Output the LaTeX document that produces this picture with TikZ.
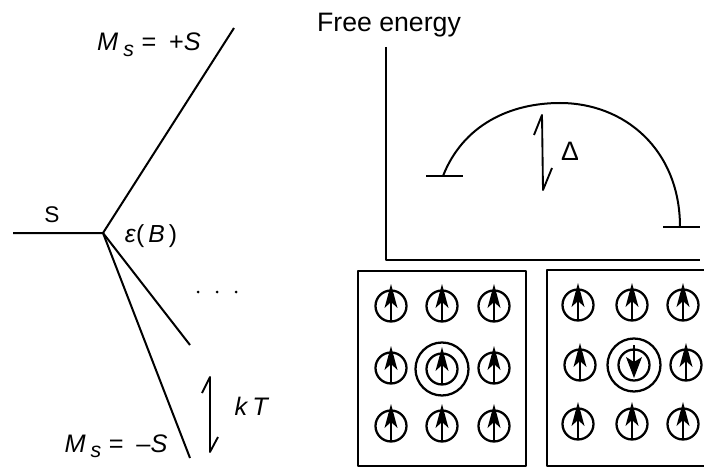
\documentclass[tikz,border=0pt]{standalone}
\usepackage{fontspec}
\setmainfont{Liberation Sans}
\begin{document}
\begin{tikzpicture}[x=0.75pt,y=-0.75pt,line width=1.5pt,line join=round,
  lbl/.style={inner sep=0pt,anchor=base},
  upspin/.pic={\draw[line width=1.7pt] (0,0) circle (15.5);
    \draw[line width=1.2pt] (0,16) -- (0,-16);
    \fill (0,-22) -- (6.5,2) -- (0,-4) -- (-6.5,2) -- cycle;},
  downspin/.pic={\draw[line width=1.7pt] (0,0) circle (15.5);
    \draw[line width=1.2pt] (0,-20) -- (0,6);
    \fill (0,13) -- (8,-8) -- (0,-3) -- (-8,-8) -- cycle;}]
\useasboundingbox (0,0) rectangle (704,467);
% ---------- left: level splitting ----------
\coordinate (v) at (103,233);
\coordinate (s0) at (13,233);
\coordinate (top) at (234,28);
\coordinate (mid) at (190,345);
\coordinate (bot) at (190,458);
\draw (s0) -- (v) -- (top);
\draw (v) -- (mid);
\draw (v) -- (bot);
\node[lbl] (Slab) at (52,222) {\fontsize{17pt}{17pt}\selectfont S};
\node[lbl] (eps) at (151,243) {\fontsize{18.5pt}{18.5pt}\selectfont\textit{ε}(\,\textit{B}\,)};
\node[lbl] (mplus) at (149,51) {\fontsize{19pt}{19pt}\selectfont\textit{M}\hspace{0.2em}\raisebox{-0.4ex}{\fontsize{16pt}{16pt}\selectfont\textit{s}}\hspace{0.3em}=\hspace{0.5em}+\textit{S}};
\node[lbl] (mminus) at (116,452) {\fontsize{19pt}{19pt}\selectfont\textit{M}\hspace{0.2em}\raisebox{-0.4ex}{\fontsize{16pt}{16pt}\selectfont\textit{s}}\hspace{0.3em}=\hspace{0.5em}\textendash\textit{S}};
\foreach \dx [count=\i] in {198,217,236} { \fill (\dx,292) circle (1.5); }
\coordinate (kA) at (202,393);
\coordinate (kB) at (210,377);
\coordinate (kC) at (210,452);
\coordinate (kD) at (218,437);
\draw[line width=1.4pt] (kA) -- (kB) -- (kC) -- (kD);
\node[lbl] (kT) at (252,415) {\fontsize{19pt}{19pt}\selectfont\textit{k}\,\textit{T}};
% ---------- right: free energy ----------
\node[lbl] (fe) at (389,32) {\fontsize{20pt}{20pt}\selectfont Free energy};
\coordinate (ax0) at (386,47);
\coordinate (axc) at (386,260);
\coordinate (ax1) at (700,260);
\draw (ax0) -- (axc) -- (ax1);
\coordinate (wl0) at (426,176);
\coordinate (wl1) at (463,176);
\coordinate (wr0) at (663,227);
\coordinate (wr1) at (700,227);
\draw (wl0) -- (wl1);
\draw (wr0) -- (wr1);
\coordinate (a0) at (443,176);
\coordinate (atop) at (560,103);
\coordinate (a1) at (680,227);
\draw (a0) .. controls (463,125) and (510,103) .. (atop)
          .. controls (625,103) and (680,150) .. (a1);
\coordinate (dA) at (534,135);
\coordinate (dB) at (542,115);
\coordinate (dC) at (543,190);
\coordinate (dD) at (552,168);
\draw[line width=1.4pt] (dA) -- (dB) -- (dC) -- (dD);
\node[lbl] (delta) at (570,161) {\fontsize{20pt}{20pt}\selectfont Δ};
% ---------- spin lattices ----------
\draw[line width=1.4pt] (358,271) rectangle (526,466);
\draw[line width=1.4pt] (706,270) -- (547,270) -- (547,466) -- (706,466);
\foreach \x in {391,442,494} {
  \foreach \y in {306,426} { \pic at (\x,\y) {upspin}; }
}
\pic at (391,368) {upspin};
\pic at (494,368) {upspin};
\pic at (442,369) {upspin};
\draw[line width=1.7pt] (442,369) circle (26.5);
\foreach \x in {578,632,683} {
  \foreach \y in {305,424} { \pic at (\x,\y) {upspin}; }
}
\pic at (580,365) {upspin};
\pic at (686,365) {upspin};
\pic at (634,365) {downspin};
\draw[line width=1.7pt] (634,365) circle (26.5);
\end{tikzpicture}
\end{document}
